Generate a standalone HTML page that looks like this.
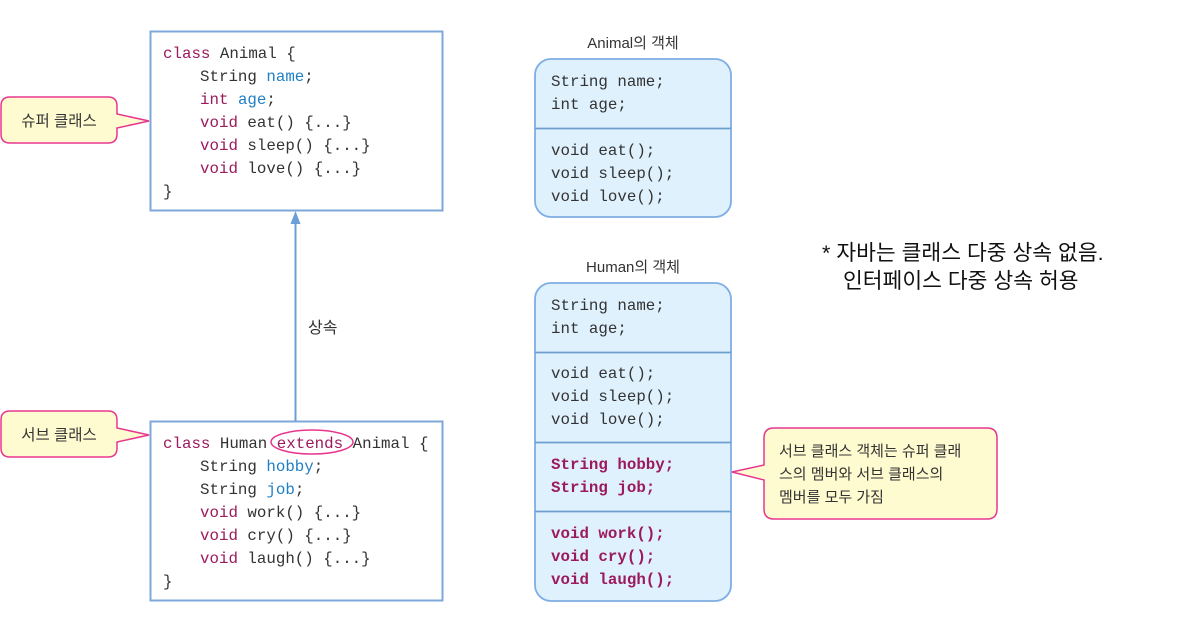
<!DOCTYPE html>
<html><head><meta charset="utf-8"><style>
html,body{margin:0;padding:0;background:#fff}
svg{display:block}
.m{font-family:"Liberation Mono",monospace;font-size:15.8px;fill:#333}
.k{fill:#9b1a5e}.b{fill:#1f7fc4}
.kb{fill:#9b1a5e;font-weight:bold}
.s{font-family:"Liberation Sans","Noto Sans CJK KR",sans-serif;fill:#333}
</style></head><body>
<svg width="1178" height="620" viewBox="0 0 1178 620" xmlns="http://www.w3.org/2000/svg">
<!-- Animal class -->
<rect x="150.5" y="31.5" width="292" height="179" fill="#fff" stroke="#7ea8da" stroke-width="2"/>
<g class="m">
<text x="163" y="58"><tspan class="k">class</tspan> Animal {</text>
<text x="200" y="81">String <tspan class="b">name</tspan>;</text>
<text x="200" y="104"><tspan class="k">int</tspan> <tspan class="b">age</tspan>;</text>
<text x="200" y="127"><tspan class="k">void</tspan> eat() {...}</text>
<text x="200" y="150"><tspan class="k">void</tspan> sleep() {...}</text>
<text x="200" y="173"><tspan class="k">void</tspan> love() {...}</text>
<text x="163" y="196">}</text>
</g>
<!-- Human class -->
<rect x="150.5" y="421.5" width="292" height="179" fill="#fff" stroke="#7ea8da" stroke-width="2"/>
<g class="m">
<text x="163" y="448"><tspan class="k">class</tspan> Human <tspan class="k">extends</tspan> Animal {</text>
<text x="200" y="471">String <tspan class="b">hobby</tspan>;</text>
<text x="200" y="494">String <tspan class="b">job</tspan>;</text>
<text x="200" y="517"><tspan class="k">void</tspan> work() {...}</text>
<text x="200" y="540"><tspan class="k">void</tspan> cry() {...}</text>
<text x="200" y="563"><tspan class="k">void</tspan> laugh() {...}</text>
<text x="163" y="586">}</text>
</g>
<ellipse cx="312" cy="442" rx="41" ry="12" fill="none" stroke="#e8368f" stroke-width="1.5"/>
<!-- arrow -->
<line x1="295.5" y1="421" x2="295.5" y2="222" stroke="#6a9fd8" stroke-width="2"/>
<polygon points="295.5,211 290.5,224 300.5,224" fill="#6a9fd8"/>
<text class="s" x="308" y="333" font-size="16">상속</text>
<!-- callouts -->
<path d="M10,97 H108 Q117,97 117,106 V114 L149,121 L117,128 V134 Q117,143 108,143 H10 Q1,143 1,134 V106 Q1,97 10,97 Z" fill="#fffbd0" stroke="#e8368f" stroke-width="1.5"/>
<text class="s" x="59" y="126" font-size="15.5" text-anchor="middle">슈퍼 클래스</text>
<path d="M10,411 H108 Q117,411 117,420 V428 L149,435 L117,442 V448 Q117,457 108,457 H10 Q1,457 1,448 V420 Q1,411 10,411 Z" fill="#fffbd0" stroke="#e8368f" stroke-width="1.5"/>
<text class="s" x="59" y="440" font-size="15.5" text-anchor="middle">서브 클래스</text>
<!-- Animal object -->
<text class="s" x="633" y="48" font-size="15" text-anchor="middle">Animal의 객체</text>
<rect x="535" y="59" width="196" height="158" rx="16" fill="#dff1fc" stroke="#7eaee2" stroke-width="1.8"/>
<line x1="535" y1="128.5" x2="731" y2="128.5" stroke="#6f9fd0" stroke-width="1.8"/>
<g class="m">
<text x="551" y="86">String name;</text>
<text x="551" y="109">int age;</text>
<text x="551" y="155">void eat();</text>
<text x="551" y="178">void sleep();</text>
<text x="551" y="201">void love();</text>
</g>
<!-- Human object -->
<text class="s" x="633" y="272" font-size="15" text-anchor="middle">Human의 객체</text>
<rect x="535" y="283" width="196" height="318" rx="16" fill="#dff1fc" stroke="#7eaee2" stroke-width="1.8"/>
<line x1="535" y1="352.5" x2="731" y2="352.5" stroke="#6f9fd0" stroke-width="1.8"/>
<line x1="535" y1="442.5" x2="731" y2="442.5" stroke="#6f9fd0" stroke-width="1.8"/>
<line x1="535" y1="511.5" x2="731" y2="511.5" stroke="#6f9fd0" stroke-width="1.8"/>
<g class="m">
<text x="551" y="310">String name;</text>
<text x="551" y="333">int age;</text>
<text x="551" y="378">void eat();</text>
<text x="551" y="401">void sleep();</text>
<text x="551" y="424">void love();</text>
<text x="551" y="469" class="kb">String hobby;</text>
<text x="551" y="492" class="kb">String job;</text>
<text x="551" y="538" class="kb">void work();</text>
<text x="551" y="561" class="kb">void cry();</text>
<text x="551" y="584" class="kb">void laugh();</text>
</g>
<!-- object callout -->
<path d="M774,428 H987 Q997,428 997,438 V509 Q997,519 987,519 H774 Q764,519 764,509 V480 L732,472 L764,465 V438 Q764,428 774,428 Z" fill="#fffbd0" stroke="#e8368f" stroke-width="1.5"/>
<g class="s" font-size="15">
<text x="779" y="456">서브 클래스 객체는 슈퍼 클래</text>
<text x="779" y="479">스의 멤버와 서브 클래스의</text>
<text x="779" y="502">멤버를 모두 가짐</text>
</g>
<!-- note -->
<g class="s" font-size="21.5" style="fill:#111">
<text x="822" y="260">* 자바는 클래스 다중 상속 없음.</text>
<text x="843" y="288">인터페이스 다중 상속 허용</text>
</g>
</svg>
</body></html>
